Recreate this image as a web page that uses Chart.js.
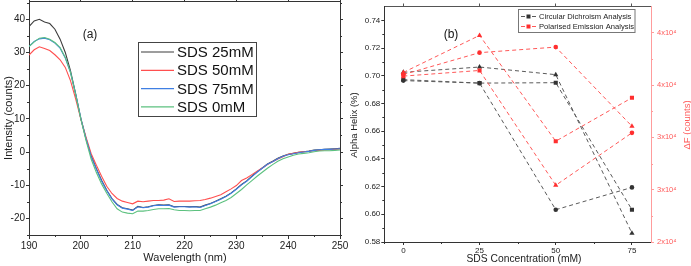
<!DOCTYPE html>
<html><head><meta charset="utf-8">
<script src="https://cdn.jsdelivr.net/npm/chart.js@4.4.1/dist/chart.umd.min.js"></script>
<style>
html,body{margin:0;padding:0;background:#fff;overflow:hidden}
#wrap{position:relative;width:691px;height:266px;background:#fff}
canvas{position:absolute;top:0}
</style></head><body>
<div id="wrap">
<canvas id="ca" width="360" height="266" style="left:0;width:360px;height:266px"></canvas>
<canvas id="cb" width="346" height="266" style="left:345px;width:346px;height:266px"></canvas>
</div>
<script>
// ---------- Panel (a) data ----------
const wavelength = [190,191,192,193,194,195,196,197,198,199,200,201,202,203,204,205,206,207,208,209,210,211,212,213,214,215,216,217,218,219,220,221,222,223,224,225,226,227,228,229,230,231,232,233,234,235,236,237,238,239,240,241,242,243,244,245,246,247,248,249,250];
const sds25mM = [37.8,39.5,40.0,39.2,38.7,37.0,34.0,30.0,24.5,17.5,10.0,4.0,-1.2,-5.0,-8.5,-11.5,-14.0,-15.8,-16.8,-17.1,-17.5,-16.4,-16.7,-16.5,-16.1,-15.9,-16.0,-15.9,-16.5,-16.4,-16.4,-16.5,-16.4,-16.6,-16.0,-15.5,-14.8,-14.1,-13.3,-12.3,-11.1,-9.8,-8.7,-7.3,-6.0,-4.8,-3.6,-2.8,-1.9,-1.2,-0.7,-0.4,-0.1,0.1,0.3,0.6,0.7,0.8,0.9,1.0,1.1];
const sds50mM = [29.2,30.8,31.7,31.2,30.6,29.3,27.8,25.5,21.5,16.0,10.0,4.5,-0.5,-4.0,-7.3,-10.3,-12.5,-14.0,-14.8,-15.2,-15.6,-14.8,-15.0,-14.8,-14.6,-14.6,-14.5,-14.1,-14.9,-14.8,-14.8,-14.8,-14.7,-14.6,-14.3,-13.9,-13.4,-12.9,-12.0,-11.1,-10.1,-8.6,-7.8,-6.8,-5.8,-4.8,-3.8,-2.9,-2.1,-1.4,-0.7,-0.4,-0.1,0.1,0.2,0.4,0.5,0.6,0.7,0.8,0.9];
const sds75mM = [31.8,33.3,34.1,34.3,33.8,32.8,31.3,28.3,24.0,17.5,10.2,4.0,-1.3,-5.2,-8.7,-11.6,-14.1,-15.9,-16.9,-17.2,-17.6,-16.5,-16.8,-16.6,-16.2,-16.0,-16.1,-16.0,-16.6,-16.5,-16.5,-16.6,-16.5,-16.7,-16.1,-15.6,-14.9,-14.2,-13.4,-12.4,-11.2,-9.9,-8.8,-7.4,-6.1,-4.9,-3.7,-2.9,-2.0,-1.3,-0.8,-0.5,-0.2,0.0,0.2,0.5,0.7,0.8,0.8,0.9,1.0];
const sds0mM = [31.8,33.2,34.3,34.5,34.0,33.0,31.5,28.5,24.0,17.3,10.0,3.5,-2.2,-6.2,-9.6,-12.4,-15.0,-17.1,-18.1,-18.4,-18.6,-17.8,-17.8,-17.6,-17.3,-17.1,-17.1,-17.0,-17.4,-17.6,-17.6,-17.7,-17.6,-17.6,-17.1,-16.6,-16.0,-15.3,-14.6,-13.7,-12.5,-11.3,-9.9,-8.6,-7.3,-6.1,-4.9,-3.8,-2.8,-2.0,-1.5,-1.0,-0.6,-0.4,-0.2,0.1,0.3,0.4,0.4,0.5,0.6];
const seriesNamesA = ['SDS 25mM','SDS 50mM','SDS 75mM','SDS 0mM'];
const xTicksA = [190,200,210,220,230,240,250];
const xMinorA = [195,205,215,225,235,245];
const yTicksA = [-20,-10,0,10,20,30,40];
const yMinorA = [-25,-15,-5,5,15,25,35,45];

// ---------- Panel (b) data ----------
const sdsConc = [0,25,50,75];
const cdSeries1 = [0.7025,0.7063,0.7008,0.5864];
const cdSeries2 = [0.6972,0.6947,0.6950,0.6033];
const cdSeries3 = [0.6965,0.6947,0.6033,0.6194];
const peSeries1 = [36200,39740,29630,33780];
const peSeries2 = [36000,38090,38620,31060];
const peSeries3 = [35850,36390,25420,30430];
const legendNamesB = ['Circular Dichroism Analysis','Polarised Emission Analysis'];
const xTicksB = [0,25,50,75];
const xMinorB = [-6.25,12.5,37.5,62.5];
const yTicksB = [0.58,0.60,0.62,0.64,0.66,0.68,0.70,0.72,0.74];
const yMinorB = [0.59,0.61,0.63,0.65,0.67,0.69,0.71,0.73];
const yRightTicksB = [20000,25000,30000,35000,40000];
const yRightLabelsB = ['2x10\u2074','3x10\u2074','3x10\u2074','4x10\u2074','4x10\u2074'];
const yRightMinorB = [22500,27500,32500,37500];

// ---------- helpers ----------
const FONT = "'Liberation Sans', Arial, Helvetica, sans-serif";
const setTicks = vals => s => { s.ticks = vals.map(v => ({value: v})); };
const fixW = w => s => { s.width = w; s.paddingTop = 0; s.paddingBottom = 0; };
const fixH = h => s => { s.height = h; s.paddingLeft = 0; s.paddingRight = 0; };
const pts = (xs, ys) => xs.map((x, i) => ({x: x, y: ys[i]}));
const markerSize = {circle: 2.3, rect: 2.9, triangle: 3.0};

const minorTicks = {
  id: 'minorTicks',
  afterDraw(chart, args, opts) {
    const ctx = chart.ctx;
    ctx.save();
    (opts.list || []).forEach(m => {
      const s = chart.scales[m.id];
      ctx.strokeStyle = m.color; ctx.lineWidth = 1;
      ctx.beginPath();
      m.vals.forEach(v => {
        const p = Math.round(s.getPixelForValue(v)) + 0.5;
        if (s.position === 'bottom') { ctx.moveTo(p, s.top); ctx.lineTo(p, s.top + m.len); }
        else if (s.position === 'top') { ctx.moveTo(p, s.bottom); ctx.lineTo(p, s.bottom - m.len); }
        else if (s.position === 'left') { ctx.moveTo(s.right, p); ctx.lineTo(s.right - m.len, p); }
        else { ctx.moveTo(s.left, p); ctx.lineTo(s.left + m.len, p); }
      });
      ctx.stroke();
    });
    ctx.restore();
  }
};

function axisCommon(color, tl) {
  return {
    grid: {drawOnChartArea: false, drawTicks: true, tickLength: tl, color: color, lineWidth: 1},
    border: {display: true, color: color, width: 1}
  };
}

// ---------- Chart (a) ----------
const colorsA = ['#3c3c3c', '#ff4f4f', '#3f7fe3', '#5cc17f'];
const valuesA = [sds25mM, sds50mM, sds75mM, sds0mM];

const annotA = {
  id: 'annotA',
  afterDraw(chart) {
    const ctx = chart.ctx;
    ctx.save();
    ctx.fillStyle = '#222';
    ctx.font = '11px ' + FONT;
    ctx.textAlign = 'center'; ctx.textBaseline = 'middle';
    ctx.fillText('Wavelength (nm)', 185, 258);
    ctx.save();
    ctx.translate(8.5, 118); ctx.rotate(-Math.PI / 2);
    ctx.fillText('Intensity (counts)', 0, 0);
    ctx.restore();
    ctx.font = '12px ' + FONT;
    ctx.fillText('(a)', 90, 35);
    // legend
    ctx.strokeStyle = '#444'; ctx.lineWidth = 1;
    ctx.strokeRect(138.5, 42.5, 118, 74);
    ctx.font = '15px ' + FONT;
    ctx.textAlign = 'left';
    seriesNamesA.forEach((n, i) => {
      const y = 52 + i * 18.3;
      ctx.strokeStyle = colorsA[i]; ctx.lineWidth = 1.2;
      ctx.beginPath(); ctx.moveTo(141, y); ctx.lineTo(174, y); ctx.stroke();
      ctx.fillStyle = '#111';
      ctx.fillText(n, 177, y + 1);
    });
    ctx.restore();
  }
};

new Chart(document.getElementById('ca'), {
  type: 'line',
  data: {
    datasets: valuesA.map((v, i) => ({
      label: seriesNamesA[i],
      data: pts(wavelength, v),
      borderColor: colorsA[i],
      borderWidth: 1.1,
      pointRadius: 0,
      tension: 0,
      order: 3 - i
    }))
  },
  options: {
    responsive: false, animation: false, devicePixelRatio: 1,
    layout: {padding: 0},
    plugins: {
      legend: {display: false}, tooltip: {enabled: false},
      minorTicks: {list: [
        {id: 'x', vals: xMinorA, len: 2, color: '#333'},
        {id: 'xTop', vals: xMinorA, len: 0, color: '#333'},
        {id: 'y', vals: yMinorA, len: 2, color: '#333'},
        {id: 'yR', vals: yMinorA, len: 2, color: '#333'}
      ]}
    },
    scales: {
      x: Object.assign({type: 'linear', position: 'bottom', min: 190, max: 250,
        afterBuildTicks: setTicks(xTicksA), afterFit: fixH(31),
        ticks: {font: {size: 10, family: FONT}, color: '#222', padding: 1, maxRotation: 0, autoSkip: false}
      }, axisCommon('#333', 4)),
      xTop: Object.assign({type: 'linear', position: 'top', min: 190, max: 250,
        afterBuildTicks: setTicks(xTicksA), afterFit: fixH(1),
        ticks: {display: false}
      }, axisCommon('#333', 3)),
      y: Object.assign({type: 'linear', position: 'left', min: -25, max: 45.5,
        afterBuildTicks: setTicks(yTicksA), afterFit: fixW(29),
        ticks: {font: {size: 10, family: FONT}, color: '#222', padding: 1}
      }, axisCommon('#333', 3)),
      yR: Object.assign({type: 'linear', position: 'right', min: -25, max: 45.5,
        afterBuildTicks: setTicks(yTicksA), afterFit: fixW(20),
        ticks: {display: false}
      }, axisCommon('#333', 3))
    }
  },
  plugins: [minorTicks, annotA]
});

// ---------- Chart (b) ----------
const cdColorLine = '#5a5a5a', cdColorPt = '#333333';
const peColorLine = '#ff5858', peColorPt = '#ff2f2f';
const rightAxisColor = '#ff9c9c';

const annotB = {
  id: 'annotB',
  afterDraw(chart) {
    const ctx = chart.ctx;
    ctx.save();
    ctx.textAlign = 'center'; ctx.textBaseline = 'middle';
    ctx.fillStyle = '#222';
    ctx.font = '10.3px ' + FONT;
    ctx.fillText('SDS Concentration (mM)', 179, 259);
    ctx.save();
    ctx.translate(9, 125); ctx.rotate(-Math.PI / 2);
    ctx.font = '9.5px ' + FONT;
    ctx.fillText('Alpha Helix (%)', 0, 0);
    ctx.restore();
    ctx.save();
    ctx.translate(342, 125); ctx.rotate(-Math.PI / 2);
    ctx.font = '9.5px ' + FONT;
    ctx.fillStyle = '#ff5a5a';
    ctx.fillText('\u0394F (counts)', 0, 0);
    ctx.restore();
    ctx.font = '12px ' + FONT;
    ctx.fillStyle = '#111';
    ctx.fillText('(b)', 106, 35);
    // legend
    ctx.strokeStyle = '#777'; ctx.lineWidth = 1;
    ctx.strokeRect(173.5, 9.5, 116.5, 23);
    ctx.font = '7.6px ' + FONT;
    ctx.textAlign = 'left';
    const cols = [[cdColorLine, cdColorPt], [peColorLine, peColorPt]];
    legendNamesB.forEach((n, i) => {
      const y = 16.5 + i * 10;
      ctx.strokeStyle = cols[i][0]; ctx.lineWidth = 1;
      ctx.beginPath(); ctx.moveTo(176, y); ctx.lineTo(180, y); ctx.moveTo(187, y); ctx.lineTo(191, y); ctx.stroke();
      ctx.fillStyle = cols[i][1];
      ctx.fillRect(181.5, y - 2, 4, 4);
      ctx.fillStyle = '#222';
      ctx.fillText(n, 194, y + 0.5);
    });
    ctx.restore();
  }
};

function cdDs(vals, shapes) {
  return {data: pts(sdsConc, vals), yAxisID: 'y', borderColor: cdColorLine, borderWidth: 1,
    borderDash: [4, 3], pointStyle: shapes, pointRadius: shapes.map(s => markerSize[s]),
    pointBackgroundColor: cdColorPt, pointBorderColor: cdColorPt, pointBorderWidth: 0, tension: 0, order: 2};
}
function peDs(vals, shapes) {
  return {data: pts(sdsConc, vals), yAxisID: 'yR', borderColor: peColorLine, borderWidth: 1,
    borderDash: [4, 3], pointStyle: shapes, pointRadius: shapes.map(s => markerSize[s]),
    pointBackgroundColor: peColorPt, pointBorderColor: peColorPt, pointBorderWidth: 0, tension: 0, order: 1};
}

new Chart(document.getElementById('cb'), {
  type: 'line',
  data: {
    datasets: [
      cdDs(cdSeries1, ['triangle', 'triangle', 'triangle', 'triangle']),
      cdDs(cdSeries2, ['rect', 'rect', 'rect', 'rect']),
      cdDs(cdSeries3, ['circle', 'circle', 'circle', 'circle']),
      peDs(peSeries1, ['triangle', 'triangle', 'rect', 'rect']),
      peDs(peSeries2, ['circle', 'circle', 'circle', 'triangle']),
      peDs(peSeries3, ['rect', 'rect', 'triangle', 'circle'])
    ]
  },
  options: {
    responsive: false, animation: false, devicePixelRatio: 1,
    layout: {padding: 0},
    plugins: {
      legend: {display: false}, tooltip: {enabled: false},
      minorTicks: {list: [
        {id: 'x', vals: xMinorB, len: 2, color: '#333'},
        {id: 'xTop', vals: xMinorB, len: 0, color: '#333'},
        {id: 'y', vals: yMinorB, len: 2, color: '#333'},
        {id: 'yR', vals: yRightMinorB, len: 2, color: rightAxisColor}
      ]}
    },
    scales: {
      x: Object.assign({type: 'linear', position: 'bottom', min: -6.25, max: 81.25,
        afterBuildTicks: setTicks(xTicksB), afterFit: fixH(24),
        ticks: {font: {size: 8, family: FONT}, color: '#222', padding: 1, maxRotation: 0, autoSkip: false}
      }, axisCommon('#333', 3)),
      xTop: Object.assign({type: 'linear', position: 'top', min: -6.25, max: 81.25,
        afterBuildTicks: setTicks(xTicksB), afterFit: fixH(6.5),
        ticks: {display: false}
      }, axisCommon('#555', 3)),
      y: Object.assign({type: 'linear', position: 'left', min: 0.58, max: 0.75,
        afterBuildTicks: setTicks(yTicksB), afterFit: fixW(39.3),
        ticks: {font: {size: 8, family: FONT}, color: '#222', padding: 1,
          callback: v => v.toFixed(2)}
      }, axisCommon('#333', 3)),
      yR: Object.assign({type: 'linear', position: 'right', min: 20000, max: 42500,
        afterBuildTicks: setTicks(yRightTicksB), afterFit: fixW(40),
        ticks: {font: {size: 7.5, family: FONT}, color: '#ff5a5a', padding: 3,
          callback: (v, i) => yRightLabelsB[i]}
      }, axisCommon(rightAxisColor, 3))
    }
  },
  plugins: [minorTicks, annotB]
});
</script>
</body></html>
